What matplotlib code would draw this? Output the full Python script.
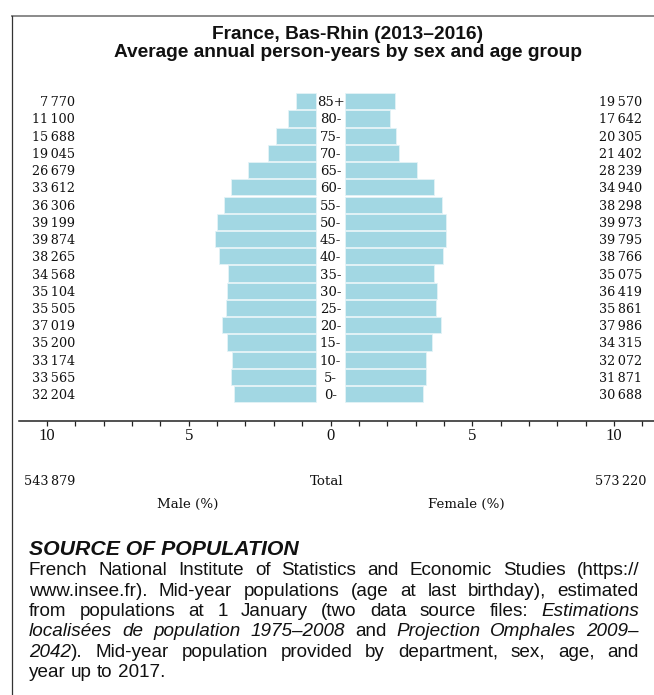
import matplotlib
matplotlib.use("Agg")
import matplotlib.pyplot as plt
from matplotlib.lines import Line2D
import matplotlib.transforms as mtransforms
from matplotlib.ticker import MultipleLocator, FixedLocator

# ---------------- data ----------------
age_groups = ['0-', '5-', '10-', '15-', '20-', '25-', '30-', '35-', '40-',
              '45-', '50-', '55-', '60-', '65-', '70-', '75-', '80-', '85+']
male = [32204, 33565, 33174, 35200, 37019, 35505, 35104, 34568, 38265,
        39874, 39199, 36306, 33612, 26679, 19045, 15688, 11100, 7770]
female = [30688, 31871, 32072, 34315, 37986, 35861, 36419, 35075, 38766,
          39795, 39973, 38298, 34940, 28239, 21402, 20305, 17642, 19570]
male_total = 543879
female_total = 573220
tick_values = [-10, -5, 0, 5, 10]
tick_labels = ['10', '5', '0', '5', '10']

title_lines = ["France, Bas-Rhin (2013\u20132016)",
               "Average annual person-years by sex and age group"]
source_heading = "SOURCE OF POPULATION"
source_lines = [
    "French National Institute of Statistics and Economic Studies (https://",
    "www.insee.fr). Mid-year populations (age at last birthday), estimated",
    "from populations at 1 January (two data source files: *Estimations*",
    "*localis\u00e9es de population 1975\u20132008* and *Projection Omphales 2009\u2013*",
    "*2042*). Mid-year population provided by department, sex, age, and",
    "year up to 2017.",
]

# ---------------- layout ----------------
W, H = 654, 695
fig = plt.figure(figsize=(W / 100, H / 100), dpi=100)
fig.patch.set_facecolor('white')

def fx(px):
    return px / W

def fy(py):
    return 1 - py / H

grand_total = male_total + female_total
male_pct = [v / grand_total * 100 for v in male]
female_pct = [v / grand_total * 100 for v in female]

gap = 0.51
ax_left_px, ax_right_px = 19, 654
zero_px, unit_px = 330.5, 28.35
xlim = ((ax_left_px - zero_px) / unit_px, (ax_right_px - zero_px) / unit_px)

ax_top_px, ax_bot_px = 85, 420.7
ax = fig.add_axes([fx(ax_left_px), fy(ax_bot_px),
                   fx(ax_right_px - ax_left_px), (ax_bot_px - ax_top_px) / H])
row_px = 17.235
ylim_lo = -(ax_bot_px - 394.2) / row_px
ylim_hi = 17 + (101.2 - ax_top_px) / row_px

ypos = list(range(len(age_groups)))
bar_color = '#a2d7e3'
ax.barh(ypos, [-v for v in male_pct], left=-gap, height=0.94,
        color=bar_color, edgecolor='#e4f3f7', linewidth=0.6)
ax.barh(ypos, female_pct, left=gap, height=0.94,
        color=bar_color, edgecolor='#e4f3f7', linewidth=0.6)

ax.set_xlim(*xlim)
ax.set_ylim(ylim_lo, ylim_hi)
for s in ['top', 'left', 'right']:
    ax.spines[s].set_visible(False)
ax.spines['bottom'].set_color('#222222')
ax.spines['bottom'].set_linewidth(1.1)
ax.set_yticks([])
ax.xaxis.set_major_locator(FixedLocator(tick_values))
ax.xaxis.set_minor_locator(MultipleLocator(1))
ax.set_xticklabels(tick_labels, fontfamily='Liberation Serif', fontsize=12)
ax.tick_params(axis='x', which='both', direction='out', length=3.4,
               width=0.9, color='#222222', pad=1.5)
ax.tick_params(axis='x', which='major', labelcolor='#111111')

serif = 'DejaVu Serif'
fs_val = 9.2

def fmt(v):
    return f"{v:,}".replace(',', '\u2009')

blend = mtransforms.blended_transform_factory(fig.transFigure, ax.transData)
for i, age in enumerate(age_groups):
    ax.text(0, i, age, ha='center', va='center_baseline', fontfamily=serif,
            fontsize=9.5, color='#111111')
    fig.text(fx(75), i, fmt(male[i]), transform=blend, ha='right',
             va='center_baseline', fontfamily=serif, fontsize=fs_val, color='#111111')
    fig.text(fx(642), i, fmt(female[i]), transform=blend, ha='right',
             va='center_baseline', fontfamily=serif, fontsize=fs_val, color='#111111')

# totals and sex labels
fig.text(fx(24), fy(485), fmt(male_total), ha='left', va='baseline',
         fontfamily=serif, fontsize=fs_val, color='#111111')
fig.text(fx(646), fy(485), fmt(female_total), ha='right', va='baseline',
         fontfamily=serif, fontsize=fs_val, color='#111111')
fig.text(fx(327), fy(485), "Total", ha='center', va='baseline',
         fontfamily=serif, fontsize=9.6, color='#111111')
fig.text(fx(188), fy(508), "Male (%)", ha='center', va='baseline',
         fontfamily=serif, fontsize=9.6, color='#111111')
fig.text(fx(466), fy(508), "Female (%)", ha='center', va='baseline',
         fontfamily=serif, fontsize=9.6, color='#111111')

# title
sans = 'Liberation Sans'
fig.text(fx(348), fy(39), title_lines[0], ha='center', va='baseline',
         fontfamily=sans, fontweight='bold', fontsize=13.8, color='#111111')
fig.text(fx(348), fy(57), title_lines[1], ha='center', va='baseline',
         fontfamily=sans, fontweight='bold', fontsize=13.8, color='#111111')

# frame lines
fig.add_artist(Line2D([fx(12), fx(654)], [fy(15.5), fy(15.5)],
                      transform=fig.transFigure, color='#8a8a8a', lw=1.4))
fig.add_artist(Line2D([fx(12.3), fx(12.3)], [fy(15.5), fy(695)],
                      transform=fig.transFigure, color='#333333', lw=0.9))

# source block
fig.text(fx(29), fy(555), source_heading, ha='left', va='baseline',
         fontfamily=sans, fontweight='bold', style='italic', fontsize=15.3,
         color='#111111')

body_fs = 13.6
renderer = fig.canvas.get_renderer()

def parse_words(line, italic_state):
    words = []
    for raw in line.split(' '):
        segs = []
        cur = ''
        for ch in raw:
            if ch == '*':
                if cur:
                    segs.append((cur, italic_state))
                cur = ''
                italic_state = not italic_state
            else:
                cur += ch
        if cur:
            segs.append((cur, italic_state))
        words.append(segs)
    return words, italic_state

def seg_width(txt, italic):
    t = fig.text(0, 0, txt, fontfamily=sans, fontsize=body_fs,
                 style='italic' if italic else 'normal')
    w = t.get_window_extent(renderer).width
    t.remove()
    return w

space_w = seg_width('a a', False) - seg_width('aa', False)
x0, x1 = 29, 639
baselines = [575, 595.5, 616, 636.3, 656.7, 677]
state = False
for li, line in enumerate(source_lines):
    words, state = parse_words(line, state)
    widths = [[seg_width(s, it) for s, it in w] for w in words]
    total = sum(sum(ws) for ws in widths)
    justify = li < len(source_lines) - 1 and len(words) > 1
    sp = (x1 - x0 - total) / (len(words) - 1) if justify else space_w
    x = x0
    for w, ws in zip(words, widths):
        for (s, it), sw in zip(w, ws):
            fig.text(fx(x), fy(baselines[li]), s, ha='left', va='baseline',
                     fontfamily=sans, fontsize=body_fs,
                     style='italic' if it else 'normal', color='#111111')
            x += sw
        x += sp

fig.savefig('out.png', dpi=100)
